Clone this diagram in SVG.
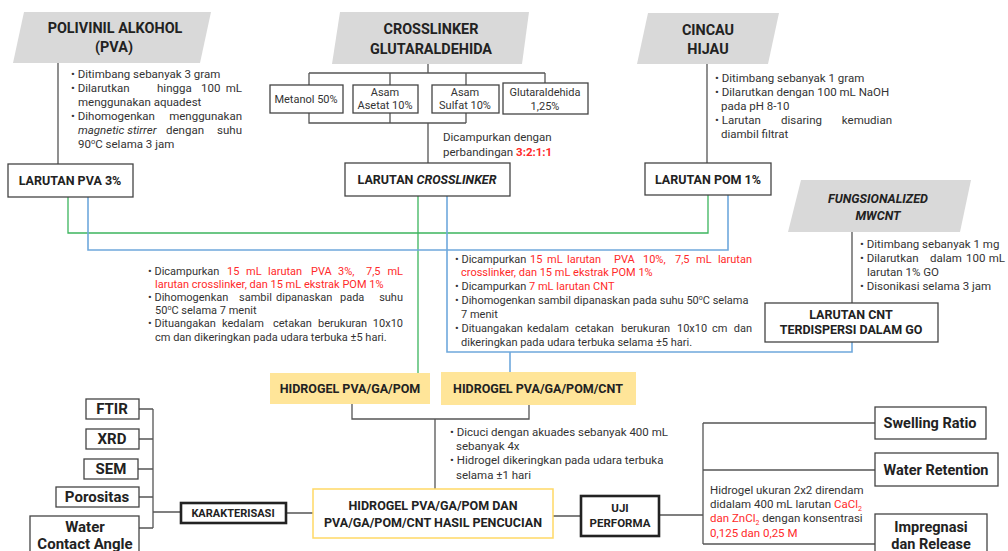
<svg xmlns="http://www.w3.org/2000/svg" width="1008" height="551" viewBox="0 0 1008 551">
<style>
.t{font-family:Roboto,"Liberation Sans",sans-serif;font-size:11px;fill:#333}
.u{font-size:11.5px}
.h{font-family:Roboto,"Liberation Sans",sans-serif;font-weight:bold;fill:#222;text-anchor:middle}
.s{font-family:Roboto,"Liberation Sans",sans-serif;font-size:11px;fill:#333;text-anchor:middle}
.e{text-anchor:end}
.r{fill:#ff2a2a}
.box{fill:#fff;stroke:#444;stroke-width:1.3}
.tk{fill:#fff;stroke:#222;stroke-width:2.6}
.para{fill:#d9d9d9}
.yel{fill:#ffe599}
.ln{stroke:#555;stroke-width:1.3;fill:none}
.g{stroke:#3cb55e;stroke-width:1.3;fill:none}
.bl{stroke:#6fa8dc;stroke-width:1.6;fill:none}
</style>
<rect width="1008" height="551" fill="#fff"/>
<g id="connectors">
<path class="ln" d="M58,63V164M428,64V73M309,73H545M309,73V85M390,73V85M466,73V85M545,73V83M309,113V123H466M390,113V123M466,113V123M428,123V163M707,64V163M852,232V303M352,404V419H529V405M435,419V489M553,516H581M659,515H703M703,423V544M703,423H875M703,470H875M703,544H875M286,513H313M181,512H153M153,409V528M139,409H153M139,439H153M138,469H153M139,497H153M139,528H153"/>
<path class="g" d="M68,197V233H708V195M418,196V373"/>
<path class="bl" d="M88,197V250H728V195M447,196V352H852V342M510,352V372"/>
</g>
<g id="pva">
<polygon class="para" points="24,12 211,12 200,63 13,63"/>
<text class="h" font-size="14.4" x="115" y="33">POLIVINIL ALKOHOL</text>
<text class="h" font-size="14.4" x="114" y="52">(PVA)</text>
</g>
<g id="pva-notes">
<text class="t u" x="71" y="78">• Ditimbang sebanyak 3 gram</text>
<text class="t u" y="92"><tspan x="71">• Dilarutkan</tspan><tspan x="157">hingga</tspan><tspan x="201">100</tspan><tspan x="242" class="e">mL</tspan></text>
<text class="t u" x="78" y="106">menggunakan aquadest</text>
<text class="t u" y="120"><tspan x="71">• Dihomogenkan</tspan><tspan x="242" class="e">menggunakan</tspan></text>
<text class="t u" y="134"><tspan x="78" font-style="italic">magnetic stirrer</tspan><tspan x="166">dengan</tspan><tspan x="242" class="e">suhu</tspan></text>
<text class="t u" x="78" y="148">90<tspan font-size="7.5" dy="-4">o</tspan><tspan dy="4">C selama 3 jam</tspan></text>
</g>
<g id="larutan-pva">
<rect class="box" x="8" y="164" width="125" height="33"/>
<text class="h" font-size="12.5" x="70" y="185">LARUTAN PVA 3%</text>
</g>
<g id="crosslinker">
<polygon class="para" points="340,12 529,12 522,64 332,64"/>
<text class="h" font-size="14.4" x="431" y="34">CROSSLINKER</text>
<text class="h" font-size="14.4" x="431" y="54">GLUTARALDEHIDA</text>
</g>
<g id="metanol">
<rect class="box" x="270" y="85" width="73" height="28"/>
<text class="s" x="306" y="103">Metanol 50%</text>
</g>
<g id="asetat">
<rect class="box" x="353" y="85" width="65" height="28"/>
<text class="s" x="385" y="96">Asam</text>
<text class="s" x="385" y="109">Asetat 10%</text>
</g>
<g id="sulfat">
<rect class="box" x="432" y="85" width="67" height="28"/>
<text class="s" x="465" y="96">Asam</text>
<text class="s" x="465" y="109">Sulfat 10%</text>
</g>
<g id="glutaraldehida">
<rect class="box" x="503" y="83" width="85" height="31"/>
<text class="s" x="545" y="96">Glutaraldehida</text>
<text class="s" x="545" y="110">1,25%</text>
</g>
<g id="ratio-note">
<text class="t u" x="443" y="141">Dicampurkan dengan</text>
<text class="t u" x="443" y="156">perbandingan <tspan class="r" font-weight="bold">3:2:1:1</tspan></text>
</g>
<g id="larutan-crosslinker">
<rect class="box" x="345" y="163" width="165" height="33"/>
<text class="h" font-size="12.5" x="427" y="184">LARUTAN <tspan font-style="italic">CROSSLINKER</tspan></text>
</g>
<g id="cincau">
<polygon class="para" points="648,13 779,13 768,64 637,64"/>
<text class="h" font-size="14.4" x="708" y="35">CINCAU</text>
<text class="h" font-size="14.4" x="708" y="54">HIJAU</text>
</g>
<g id="cincau-notes">
<text class="t u" x="715" y="82">• Ditimbang sebanyak 1 gram</text>
<text class="t u" x="715" y="96">• Dilarutkan dengan 100 mL NaOH</text>
<text class="t u" x="721" y="110">pada pH 8-10</text>
<text class="t u" y="124"><tspan x="715">• Larutan</tspan><tspan x="781">disaring</tspan><tspan x="892" class="e">kemudian</tspan></text>
<text class="t u" x="721" y="138">diambil filtrat</text>
</g>
<g id="larutan-pom">
<rect class="box" x="645" y="163" width="126" height="32"/>
<text class="h" font-size="12.5" x="708" y="184">LARUTAN POM 1%</text>
</g>
<g id="mwcnt">
<polygon class="para" points="801,180 971,180 960,232 788,232"/>
<text class="h" font-size="12.5" font-style="italic" x="878" y="203">FUNGSIONALIZED</text>
<text class="h" font-size="12.5" font-style="italic" x="878" y="220">MWCNT</text>
</g>
<g id="mwcnt-notes">
<text class="t u" x="860" y="248">• Ditimbang sebanyak 1 mg</text>
<text class="t u" y="262"><tspan x="860">• Dilarutkan</tspan><tspan x="930">dalam</tspan><tspan x="966">100</tspan><tspan x="1005" class="e">mL</tspan></text>
<text class="t u" x="867" y="276">larutan 1% GO</text>
<text class="t u" x="860" y="290">• Disonikasi selama 3 jam</text>
</g>
<g id="larutan-cnt">
<rect class="box" x="765" y="303" width="173" height="39"/>
<text class="h" font-size="12.5" x="851" y="319">LARUTAN CNT</text>
<text class="h" font-size="12.5" x="851" y="334">TERDISPERSI DALAM GO</text>
</g>
<g id="mix-pom-notes">
<text class="t" y="275"><tspan x="148">• Dicampurkan</tspan><tspan class="r" x="227">15</tspan><tspan class="r" x="246">mL</tspan><tspan class="r" x="268">larutan</tspan><tspan class="r" x="311">PVA</tspan><tspan class="r" x="338">3%,</tspan><tspan class="r" x="366">7,5</tspan><tspan class="r e" x="403">mL</tspan></text>
<text class="t r" x="155" y="288">larutan crosslinker, dan 15 mL ekstrak POM 1%</text>
<text class="t" y="301"><tspan x="148">• Dihomogenkan</tspan><tspan x="239">sambil</tspan><tspan x="276">dipanaskan</tspan><tspan x="340">pada</tspan><tspan x="403" class="e">suhu</tspan></text>
<text class="t" x="155" y="314">50<tspan font-size="7" dy="-4">o</tspan><tspan dy="4">C selama 7 menit</tspan></text>
<text class="t" y="327"><tspan x="148">• Dituangakan</tspan><tspan x="222">kedalam</tspan><tspan x="273">cetakan</tspan><tspan x="318">berukuran</tspan><tspan x="403" class="e">10x10</tspan></text>
<text class="t" x="155" y="341">cm dan dikeringkan pada udara terbuka ±5 hari.</text>
</g>
<g id="mix-cnt-notes">
<text class="t" y="263"><tspan x="455">• Dicampurkan</tspan><tspan class="r" x="530">15</tspan><tspan class="r" x="547">mL</tspan><tspan class="r" x="567">larutan</tspan><tspan class="r" x="614">PVA</tspan><tspan class="r" x="643">10%,</tspan><tspan class="r" x="675">7,5</tspan><tspan class="r" x="696">mL</tspan><tspan class="r e" x="752">larutan</tspan></text>
<text class="t r" x="461" y="276">crosslinker, dan 15 mL ekstrak POM 1%</text>
<text class="t" x="455" y="290">• Dicampurkan <tspan class="r">7 mL larutan CNT</tspan></text>
<text class="t" x="455" y="304">• Dihomogenkan sambil dipanaskan pada suhu 50<tspan font-size="7" dy="-4">o</tspan><tspan dy="4">C selama</tspan></text>
<text class="t" x="461" y="318">7 menit</text>
<text class="t" y="332"><tspan x="455">• Dituangakan</tspan><tspan x="527">kedalam</tspan><tspan x="575">cetakan</tspan><tspan x="621">berukuran</tspan><tspan x="677">10x10</tspan><tspan x="712">cm</tspan><tspan x="752" class="e">dan</tspan></text>
<text class="t" x="461" y="346">dikeringkan pada udara terbuka selama ±5 hari.</text>
</g>
<g id="hidrogel-pom">
<rect class="yel" x="270" y="373" width="160" height="31"/>
<text class="h" font-size="12.5" x="350" y="393">HIDROGEL PVA/GA/POM</text>
</g>
<g id="hidrogel-cnt">
<rect class="yel" x="441" y="372" width="195" height="33"/>
<text class="h" font-size="12.5" x="538" y="393">HIDROGEL PVA/GA/POM/CNT</text>
</g>
<g id="wash-notes">
<text class="t u" x="450" y="436">• Dicuci dengan akuades sebanyak 400 mL</text>
<text class="t u" x="456" y="450">sebanyak 4x</text>
<text class="t u" x="450" y="464">• Hidrogel dikeringkan pada udara terbuka</text>
<text class="t u" x="456" y="479">selama ±1 hari</text>
</g>
<g id="hidrogel-washed">
<rect x="313" y="489" width="240" height="49" fill="#fff" stroke="#ffd966" stroke-width="1.5"/>
<text class="h" font-size="12.5" x="433" y="510">HIDROGEL PVA/GA/POM DAN</text>
<text class="h" font-size="12.5" x="433" y="527">PVA/GA/POM/CNT HASIL PENCUCIAN</text>
</g>
<g id="karakterisasi">
<rect class="tk" x="181" y="503" width="105" height="20"/>
<text class="h" font-size="11" x="233" y="517">KARAKTERISASI</text>
</g>
<g id="uji-performa">
<rect class="tk" x="581" y="496" width="78" height="40"/>
<text class="h" font-size="11.5" x="620" y="512">UJI</text>
<text class="h" font-size="11.5" x="620" y="527">PERFORMA</text>
</g>
<g id="ftir">
<rect class="box" x="86" y="399" width="53" height="20"/>
<text class="h" font-size="15" x="112" y="414">FTIR</text>
</g>
<g id="xrd">
<rect class="box" x="86" y="429" width="53" height="20"/>
<text class="h" font-size="15" x="112" y="444">XRD</text>
</g>
<g id="sem">
<rect class="box" x="84" y="459" width="54" height="20"/>
<text class="h" font-size="15" x="111" y="474">SEM</text>
</g>
<g id="porositas">
<rect class="box" x="56" y="487" width="83" height="20"/>
<text class="h" font-size="15" x="97" y="502">Porositas</text>
</g>
<g id="wca">
<rect class="box" x="30" y="516" width="109" height="40"/>
<text class="h" font-size="15" x="85" y="532">Water</text>
<text class="h" font-size="15" x="85" y="549">Contact Angle</text>
</g>
<g id="swelling">
<rect class="box" x="875" y="407" width="111" height="32"/>
<text class="h" font-size="14.5" x="930" y="428">Swelling Ratio</text>
</g>
<g id="water-retention">
<rect class="box" x="875" y="453" width="123" height="33"/>
<text class="h" font-size="14.5" x="936" y="475">Water Retention</text>
</g>
<g id="impregnasi">
<rect class="box" x="875" y="514" width="112" height="45"/>
<text class="h" font-size="14.5" x="931" y="532">Impregnasi</text>
<text class="h" font-size="14.5" x="931" y="549">dan Release</text>
</g>
<g id="performa-notes">
<text class="t u" x="710" y="494">Hidrogel ukuran 2x2 direndam</text>
<text class="t u" x="710" y="508">didalam 400 mL larutan <tspan class="r">CaCl</tspan><tspan class="r" font-size="7" dy="3">2</tspan></text>
<text class="t u" x="710" y="522"><tspan class="r">dan ZnCl</tspan><tspan class="r" font-size="7" dy="3">2</tspan><tspan dy="-3"> dengan konsentrasi</tspan></text>
<text class="t u r" x="710" y="537">0,125 dan 0,25 M</text>
</g>
</svg>
